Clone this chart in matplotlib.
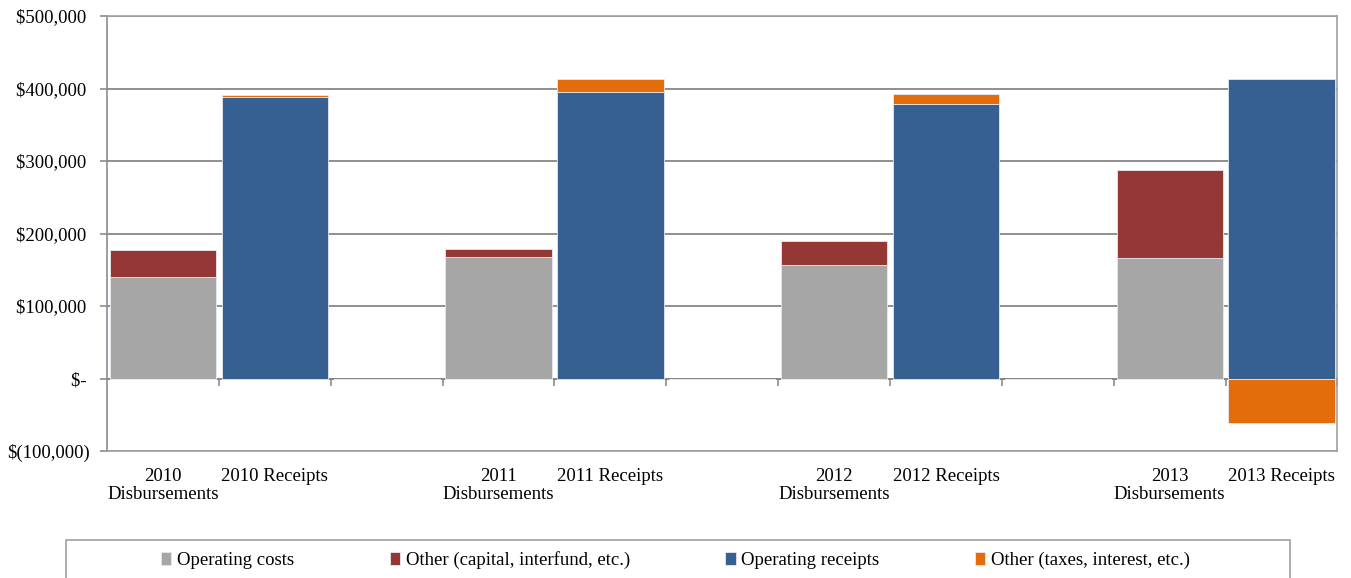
import numpy as np
import matplotlib
matplotlib.use("Agg")
import matplotlib.pyplot as plt
from matplotlib.patches import Rectangle

# category slots (blank slots separate the years)
categories = ["2010\nDisbursements", "2010 Receipts", "",
              "2011\nDisbursements", "2011 Receipts", "",
              "2012\nDisbursements", "2012 Receipts", "",
              "2013\nDisbursements", "2013 Receipts"]

operating_costs = [140000, 0, 0, 168000, 0, 0, 156000, 0, 0, 166000, 0]
other_capital = [37000, 0, 0, 11000, 0, 0, 33000, 0, 0, 122000, 0]
operating_receipts = [0, 388000, 0, 0, 395000, 0, 0, 379000, 0, 0, 413000]
other_taxes = [0, 2500, 0, 0, 18000, 0, 0, 13500, 0, 0, -61000]

y_ticks = [-100000, 0, 100000, 200000, 300000, 400000, 500000]
# accounting style: positives leave a little room where the ")" would go
y_labels = ["$(100,000)", "$-\u2009", "$100,000\u2009", "$200,000\u2009",
            "$300,000\u2009", "$400,000\u2009", "$500,000\u2009"]

labels = ["Operating costs", "Other (capital, interfund, etc.)",
          "Operating receipts", "Other (taxes, interest, etc.)"]
colors = ["#A6A6A6", "#953735", "#366092", "#E46C0A"]

plt.rcParams["font.family"] = ["Liberation Serif", "DejaVu Serif"]
plt.rcParams["font.size"] = 13.5

fig = plt.figure(figsize=(13.51, 5.78), dpi=100)
ax = fig.add_axes([0.0792, 0.2197, 0.9108, 0.7526])

x = np.arange(len(categories))
w = 0.95
oc = np.array(operating_costs)
ocap = np.array(other_capital)
orc = np.array(operating_receipts)
ot = np.array(other_taxes)

edge = dict(edgecolor="#e6e9f0", linewidth=0.6)
ax.bar(x, oc, w, color=colors[0], label=labels[0], **edge)
ax.bar(x, ocap, w, bottom=oc, color=colors[1], label=labels[1], **edge)
ax.bar(x, orc, w, color=colors[2], label=labels[2], **edge)
# positive "other" stacks on top, negative hangs below zero
ot_bottom = np.where(ot >= 0, orc, 0)
ax.bar(x, ot, w, bottom=ot_bottom, color=colors[3], label=labels[3], **edge)

ax.set_xlim(-0.5, len(categories) - 0.5)
ax.set_ylim(-100000, 500000)
ax.set_yticks(y_ticks)
ax.set_yticklabels(y_labels)
ax.set_xticks(x)
ax.set_xticklabels(categories, linespacing=1.12)
ax.tick_params(axis="x", length=0, pad=12)
ax.tick_params(axis="y", length=5, width=1.2, color="#8c8c8c", pad=7)

ax.set_axisbelow(True)
ax.yaxis.grid(True, color="#868686", linewidth=1.3)
for s in ax.spines.values():
    s.set_color("#a0a0a0")
    s.set_linewidth(1.2)
ax.spines["left"].set_color("#8c8c8c")

# zero line with tick marks between categories
zero = ax.secondary_xaxis(1 / 6)
zero.set_xticks(np.arange(1, len(categories) + 1) - 0.5)
zero.set_xticklabels([])
zero.tick_params(length=5, width=1.2, color="#8c8c8c", direction="out")
zero.spines["bottom"].set_color("#8c8c8c")
zero.spines["bottom"].set_linewidth(1.3)

# legend box like the spreadsheet export
fig.patches.append(Rectangle((66 / 1351, -0.05), (1290 - 66) / 1351, 0.05 + 38 / 578,
                             transform=fig.transFigure, facecolor="white",
                             edgecolor="#a0a0a0", linewidth=1.2))
handles, lbls = ax.get_legend_handles_labels()
fig.legend(handles, lbls, loc="center", bbox_to_anchor=(0.500, 0.031), ncol=4,
           frameon=False, handlelength=0.55, handleheight=0.7, handletextpad=0.3,
           columnspacing=5.1, prop={"family": ["Liberation Serif"], "size": 13.5})

fig.savefig("out.png", dpi=100)
